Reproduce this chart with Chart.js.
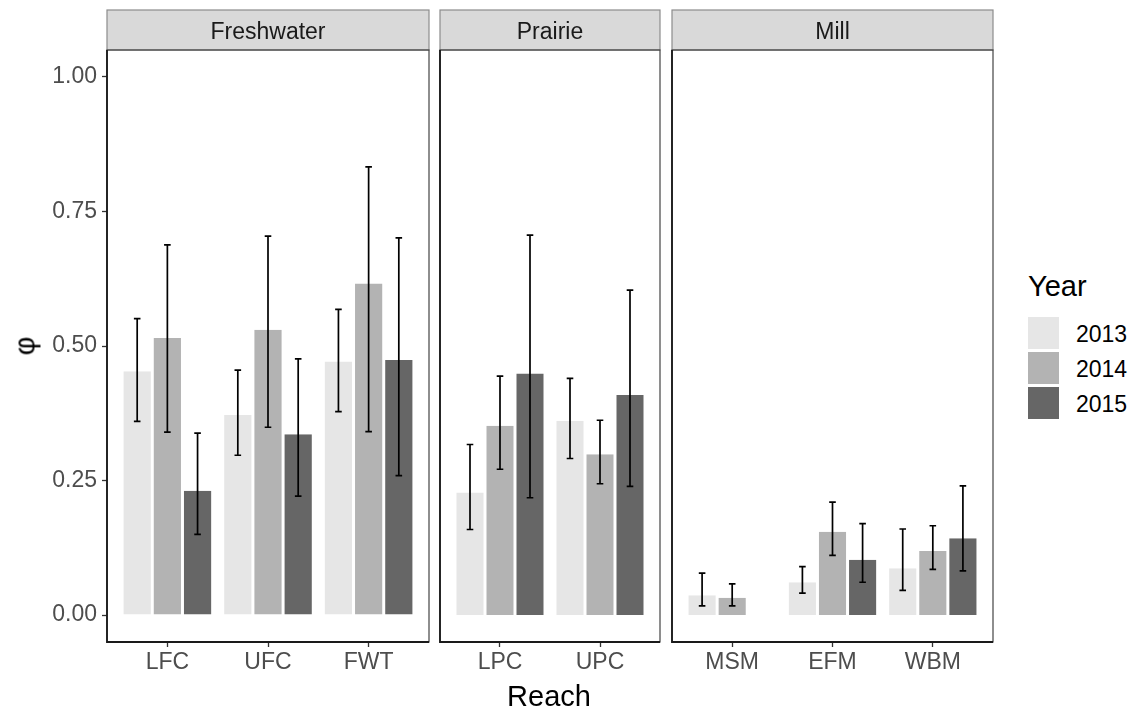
<!DOCTYPE html>
<html><head><meta charset="utf-8">
<script src="https://cdn.jsdelivr.net/npm/chart.js@4.4.1/dist/chart.umd.min.js"></script>
<style>
html,body{margin:0;padding:0;background:#fff;width:1141px;height:708px;overflow:hidden;font-family:"Liberation Sans",Arial,sans-serif;}
#wrap{position:relative;width:1141px;height:708px;}
canvas{position:absolute;top:0;}
.t{position:absolute;white-space:nowrap;line-height:1;}
.key{position:absolute;width:31px;height:32px;}
</style></head><body>
<div id="wrap">
<canvas id="c0" width="433" height="708" style="left:0px"></canvas>
<canvas id="c1" width="228" height="708" style="left:436px"></canvas>
<canvas id="c2" width="329" height="708" style="left:668px"></canvas>
<div class="t" id="ytitle" style="left:25px;top:346px;font-size:29px;color:#000;transform:translate(-50%,-50%) rotate(-90deg);">φ</div>
<div class="t" id="xtitle" style="left:549px;top:682px;font-size:29px;color:#000;transform:translateX(-50%);">Reach</div>
<div id="legend"></div>
</div>
<script>
// ---- data ----
const facets = ["Freshwater", "Prairie", "Mill"];
const reaches = ["LFC", "UFC", "FWT", "LPC", "UPC", "MSM", "EFM", "WBM"];
const reachFacet = ["Freshwater", "Freshwater", "Freshwater", "Prairie", "Prairie", "Mill", "Mill", "Mill"];
const years = ["2013", "2014", "2015"];
const phi2013 = [0.453, 0.372, 0.471, 0.228, 0.361, 0.037, 0.061, 0.087];
const phi2014 = [0.515, 0.530, 0.616, 0.352, 0.299, 0.032, 0.155, 0.119];
const phi2015 = [0.231, 0.336, 0.474, 0.449, 0.409, null, 0.103, 0.143];
const lo2013 = [0.360, 0.297, 0.378, 0.159, 0.291, 0.017, 0.041, 0.046];
const hi2013 = [0.551, 0.455, 0.568, 0.317, 0.440, 0.078, 0.090, 0.160];
const lo2014 = [0.340, 0.349, 0.341, 0.271, 0.244, 0.017, 0.111, 0.085];
const hi2014 = [0.688, 0.704, 0.833, 0.444, 0.362, 0.058, 0.210, 0.166];
const lo2015 = [0.150, 0.221, 0.259, 0.218, 0.239, null, 0.061, 0.082];
const hi2015 = [0.338, 0.476, 0.701, 0.706, 0.604, null, 0.170, 0.240];
const yTicks = [0, 0.25, 0.5, 0.75, 1.0];
const yearColors = ["#e6e6e6", "#b3b3b3", "#666666"];

const phiSeries = [phi2013, phi2014, phi2015];
const loSeries = [lo2013, lo2014, lo2015];
const hiSeries = [hi2013, hi2014, hi2015];
const FAMILY = '"Liberation Sans", Arial, sans-serif';

const facetPlugin = {
  id: 'facetDecor',
  afterDatasetsDraw(chart) {
    const ctx = chart.ctx, ys = chart.scales.y;
    ctx.save();
    ctx.strokeStyle = '#000';
    ctx.lineWidth = 1.7;
    chart.data.datasets.forEach((ds, di) => {
      const meta = chart.getDatasetMeta(di);
      meta.data.forEach((bar, j) => {
        const lo = ds.errLo[j], hi = ds.errHi[j];
        if (lo == null || hi == null) return;
        const x = bar.x, y1 = ys.getPixelForValue(lo), y2 = ys.getPixelForValue(hi);
        ctx.beginPath();
        ctx.moveTo(x, y1); ctx.lineTo(x, y2);
        ctx.moveTo(x - 3.3, y1); ctx.lineTo(x + 3.3, y1);
        ctx.moveTo(x - 3.3, y2); ctx.lineTo(x + 3.3, y2);
        ctx.stroke();
      });
    });
    ctx.restore();
  },
  afterDraw(chart, args, opts) {
    const {left, right, top, bottom} = chart.chartArea;
    const ctx = chart.ctx;
    ctx.save();
    ctx.fillStyle = '#d9d9d9';
    ctx.fillRect(left, top - 40, right - left, 40);
    ctx.strokeStyle = '#8c8c8c';
    ctx.lineWidth = 1.2;
    ctx.strokeRect(left, top - 40, right - left, 40);
    ctx.fillStyle = '#1a1a1a';
    ctx.font = '23px ' + FAMILY;
    ctx.textAlign = 'center';
    ctx.textBaseline = 'alphabetic';
    ctx.fillText(opts.label, (left + right) / 2, top - 10.7);
    ctx.strokeStyle = '#444';
    ctx.lineWidth = 1.2;
    ctx.strokeRect(left, top, right - left, bottom - top);
    ctx.strokeStyle = '#1a1a1a';
    ctx.lineWidth = 1.8;
    ctx.beginPath();
    ctx.moveTo(left, top); ctx.lineTo(left, bottom); ctx.lineTo(right, bottom);
    ctx.stroke();
    ctx.restore();
  }
};

function makeChart(canvasId, facetIdx, showY, pad) {
  const idx = reaches.map((r, i) => i).filter(i => reachFacet[i] === facets[facetIdx]);
  const labels = idx.map(i => reaches[i]);
  const datasets = years.map((yr, k) => ({
    label: yr,
    data: idx.map((i, j) => ({x: j, y: phiSeries[k][i]})),
    errLo: idx.map(i => loSeries[k][i]),
    errHi: idx.map(i => hiSeries[k][i]),
    backgroundColor: yearColors[k],
    borderColor: '#ffffff',
    borderWidth: {left: 1.5, right: 1.5, top: 0, bottom: 0},
    borderSkipped: false,
    categoryPercentage: 0.9,
    barPercentage: 1.0
  }));
  return new Chart(document.getElementById(canvasId), {
    type: 'bar',
    data: {datasets},
    options: {
      responsive: false,
      devicePixelRatio: 1,
      animation: false,
      events: [],
      layout: {padding: pad},
      plugins: {legend: {display: false}, tooltip: {enabled: false}, facetDecor: {label: facets[facetIdx]}},
      scales: {
        x: {
          type: 'linear', min: -0.6, max: labels.length - 0.4, offset: false,
          afterBuildTicks: s => { s.ticks = labels.map((l, j) => ({value: j})); },
          afterFit: s => { s.height = 66; },
          grid: {display: true, drawOnChartArea: false, drawTicks: true, tickLength: 5, tickColor: '#333', tickWidth: 1.3, offset: false},
          border: {display: false},
          ticks: {autoSkip: false, maxRotation: 0, minRotation: 0, color: '#4d4d4d', font: {size: 23, family: FAMILY}, padding: 2,
                  callback: v => (labels[v] !== undefined ? labels[v] : '')}
        },
        y: {
          type: 'linear', min: -0.05, max: 1.05, display: showY,
          afterBuildTicks: s => { s.ticks = yTicks.map(v => ({value: v})); },
          afterFit: s => { s.width = showY ? 107 : 0; },
          grid: {display: true, drawOnChartArea: false, drawTicks: true, tickLength: 5, tickColor: '#333', tickWidth: 1.3},
          border: {display: false},
          ticks: {color: '#4d4d4d', font: {size: 23, family: FAMILY}, padding: 5, callback: v => Number(v).toFixed(2)}
        }
      }
    },
    plugins: [facetPlugin]
  });
}

makeChart('c0', 0, true, {top: 50, left: 0, right: 4, bottom: 0});
makeChart('c1', 1, false, {top: 50, left: 4, right: 4, bottom: 0});
makeChart('c2', 2, false, {top: 50, left: 4, right: 4, bottom: 0});

// legend
const lg = document.getElementById('legend');
let h = '<div class="t" style="left:1028px;top:272px;font-size:29px;color:#000;">Year</div>';
years.forEach((yr, k) => {
  const top = 317 + k * 35;
  h += '<div class="key" style="left:1028px;top:' + top + 'px;background:' + yearColors[k] + ';"></div>';
  h += '<div class="t" style="left:1076px;top:' + (top + 6) + 'px;font-size:23px;color:#000;">' + yr + '</div>';
});
lg.innerHTML = h;
</script>
</body></html>
